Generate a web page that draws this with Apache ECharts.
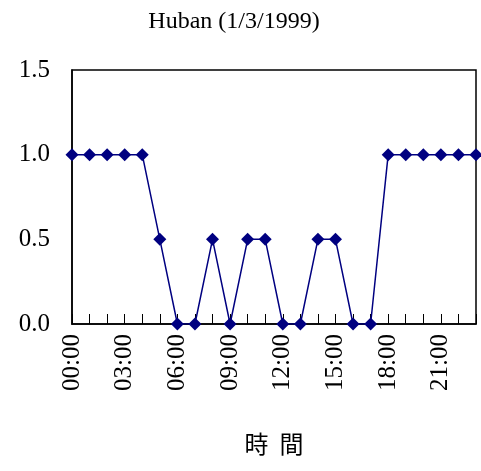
<!DOCTYPE html>
<html>
<head>
<meta charset="utf-8">
<script src="https://cdn.jsdelivr.net/npm/echarts@6/dist/echarts.min.js"></script>
<style>body{margin:0;background:#fff}#c{width:481px;height:471px}</style>
</head>
<body>
<div id="c"></div>
<script>
// 時間 (hours) and values
var hours = ['00:00','01:00','02:00','03:00','04:00','05:00','06:00','07:00','08:00','09:00','10:00','11:00',
             '12:00','13:00','14:00','15:00','16:00','17:00','18:00','19:00','20:00','21:00','22:00','23:00'];
var values = [1,1,1,1,1,0.5,0,0,0.5,0,0.5,0.5,0,0,0.5,0.5,0,0,1,1,1,1,1,1];

var myChart = echarts.init(document.getElementById('c'));
var font = '"Liberation Serif", "Times New Roman", serif';
var options = {
    animation: false,
    title: {
        text: 'Huban (1/3/1999)',
        left: 229, top: 5, textAlign: 'center',
        textStyle: {fontFamily: font, fontWeight: 'normal', fontSize: 24, color: '#000'}
    },
    grid: {left: 72, right: 5, top: 70, bottom: 147},
    xAxis: {
        type: 'category',
        data: hours,
        boundaryGap: false,
        name: '時  間',
        nameLocation: 'middle',
        nameGap: 108,
        nameTextStyle: {fontFamily: '"Noto Sans CJK TC", serif', fontSize: 24, color: '#000'},
        axisLine: {lineStyle: {color: '#000', width: 1.5}},
        axisTick: {inside: true, length: 10, interval: 0, lineStyle: {color: '#000'}},
        axisLabel: {
            interval: 2, rotate: 90, margin: 10,
            fontFamily: font, fontSize: 25, color: '#000'
        },
        splitLine: {show: false}
    },
    yAxis: {
        type: 'value',
        min: 0, max: 1.5, interval: 0.5,
        axisLine: {show: true, lineStyle: {color: '#000', width: 1.5}},
        axisTick: {show: false},
        axisLabel: {
            formatter: function (v) { return v.toFixed(1); },
            fontFamily: font, fontSize: 25, color: '#000', margin: 22
        },
        splitLine: {show: false}
    },
    series: [{
        type: 'line',
        data: values,
        symbol: 'diamond',
        symbolSize: 13,
        showAllSymbol: true,
        lineStyle: {color: '#000080', width: 1.5},
        itemStyle: {color: '#000080'}
    }]
};
// frame around the plot area
options.graphic = [{
    type: 'rect', shape: {x: 72, y: 70, width: 404, height: 254},
    style: {fill: 'none', stroke: '#000', lineWidth: 1.5}, silent: true
}];
myChart.setOption(options, true);
</script>
</body>
</html>
